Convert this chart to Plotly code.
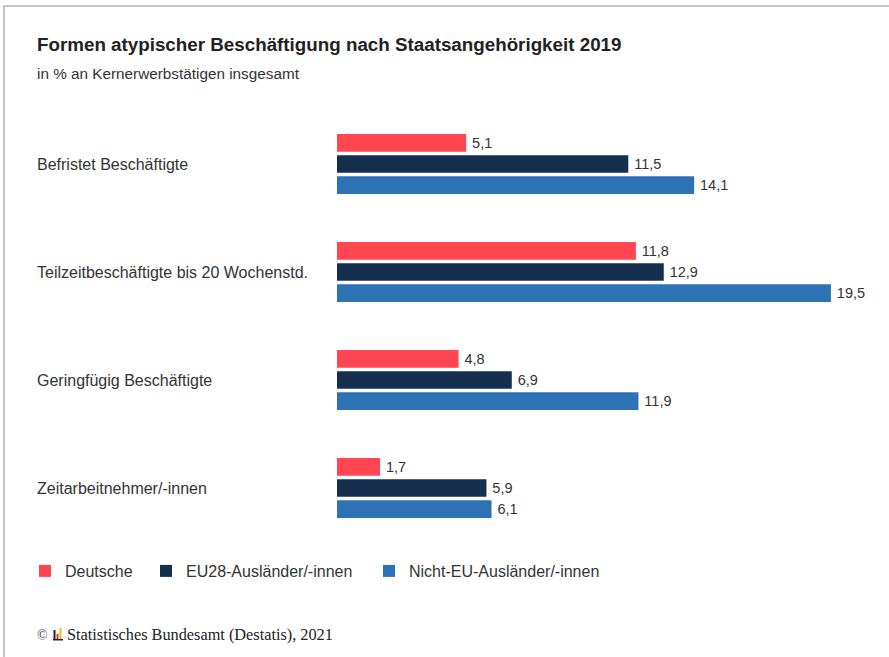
import plotly.graph_objects as go

categories = ["Befristet Beschäftigte", "Teilzeitbeschäftigte bis 20 Wochenstd.",
              "Geringfügig Beschäftigte", "Zeitarbeitnehmer/-innen"]
series_names = ["Deutsche", "EU28-Ausländer/-innen", "Nicht-EU-Ausländer/-innen"]
deutsche = [5.1, 11.8, 4.8, 1.7]
eu28 = [11.5, 12.9, 6.9, 5.9]
nicht_eu = [14.1, 19.5, 11.9, 6.1]
colors = ["#ff4651", "#15304f", "#2e72b6"]

W, H = 889, 657
L, R, T, B = 337, 19, 110, 115
PW, PH = W - L - R, H - T - B
UNIT = 25.33  # px per percent

def px(x):
    return (x - L) / PW

def py(y):
    return (H - B - y) / PH

FONT = "Liberation Sans, Arial, Helvetica, sans-serif"
SERIF = "Liberation Serif, Times New Roman, serif"
TXT = "#333333"

legend_ids = ["legend", "legend2", "legend3"]
legend_x = [25, 146, 369]

fig = go.Figure()
for name, vals, col, lid in zip(series_names, [deutsche, eu28, nicht_eu], colors, legend_ids):
    fig.add_trace(go.Bar(
        y=categories, x=vals, name=name, orientation="h",
        marker=dict(color=col, line=dict(width=0)),
        texttemplate="\u2009%{x:.1f}", textposition="outside",
        textfont=dict(size=14.5, color=TXT, family=FONT),
        cliponaxis=False, hoverinfo="skip", legend=lid,
    ))

annotations = []
for c in categories:
    annotations.append(dict(xref="paper", yref="y", x=px(35), y=c, text=c,
                            showarrow=False, xanchor="left", yanchor="middle",
                            font=dict(size=16, color=TXT, family=FONT)))
annotations.append(dict(xref="paper", yref="paper", x=px(34.5), y=py(73),
                        text="in % an Kernerwerbstätigen insgesamt", showarrow=False,
                        xanchor="left", yanchor="middle",
                        font=dict(size=15.3, color=TXT, family=FONT)))
annotations.append(dict(xref="paper", yref="paper", x=px(35), y=py(635),
                        text="©", showarrow=False, xanchor="left", yanchor="middle",
                        font=dict(size=14, color="#444", family=SERIF)))
annotations.append(dict(xref="paper", yref="paper", x=px(65), y=py(634),
                        text="Statistisches Bundesamt (Destatis), 2021", showarrow=False,
                        xanchor="left", yanchor="middle",
                        font=dict(size=16.3, color="#222", family=SERIF)))

shapes = [
    dict(type="line", xref="paper", yref="paper", x0=px(3), x1=px(W), y0=py(6), y1=py(6),
         line=dict(color="#c4c4c4", width=2)),
    dict(type="line", xref="paper", yref="paper", x0=px(4), x1=px(4), y0=py(5), y1=py(H),
         line=dict(color="#c4c4c4", width=2)),
    # small logo
    dict(type="rect", xref="paper", yref="paper", x0=px(53), x1=px(63), y0=py(640.5), y1=py(639),
         line=dict(width=0), fillcolor="#222"),
    dict(type="rect", xref="paper", yref="paper", x0=px(53.5), x1=px(55.5), y0=py(639), y1=py(630),
         line=dict(width=0), fillcolor="#222"),
    dict(type="rect", xref="paper", yref="paper", x0=px(56.5), x1=px(58.5), y0=py(639), y1=py(634),
         line=dict(width=0), fillcolor="#e2343a"),
    dict(type="rect", xref="paper", yref="paper", x0=px(59.5), x1=px(61.5), y0=py(639), y1=py(628),
         line=dict(width=0), fillcolor="#f2b619"),
]

legend_layouts = {}
for lid, lx in zip(legend_ids, legend_x):
    legend_layouts[lid] = dict(orientation="h", x=px(lx), y=py(571),
                               xanchor="left", yanchor="middle",
                               font=dict(size=16, color=TXT, family=FONT),
                               itemclick=False, itemdoubleclick=False,
                               bgcolor="rgba(0,0,0,0)")

fig.update_layout(
    width=W, height=H,
    margin=dict(l=L, r=R, t=T, b=B),
    paper_bgcolor="white", plot_bgcolor="white",
    barmode="group", bargap=0.41, bargroupgap=0.165,
    separators=", ",
    font=dict(family=FONT, size=14, color=TXT),
    title=dict(text="<b>Formen atypischer Beschäftigung nach Staatsangehörigkeit 2019</b>",
               xref="container", yref="container", x=37 / W, y=1 - 44 / H,
               xanchor="left", yanchor="middle",
               font=dict(size=18.8, color="#222222", family=FONT)),
    xaxis=dict(range=[0, PW / UNIT], visible=False, fixedrange=True),
    yaxis=dict(range=[3.5, -0.5], showticklabels=False, showgrid=False, zeroline=False,
               showline=False, ticks="", fixedrange=True),
    showlegend=True,
    annotations=annotations, shapes=shapes,
    **legend_layouts,
)

fig.write_html("out.html", config={"displayModeBar": False},
               post_script="document.body.style.margin='0';")
